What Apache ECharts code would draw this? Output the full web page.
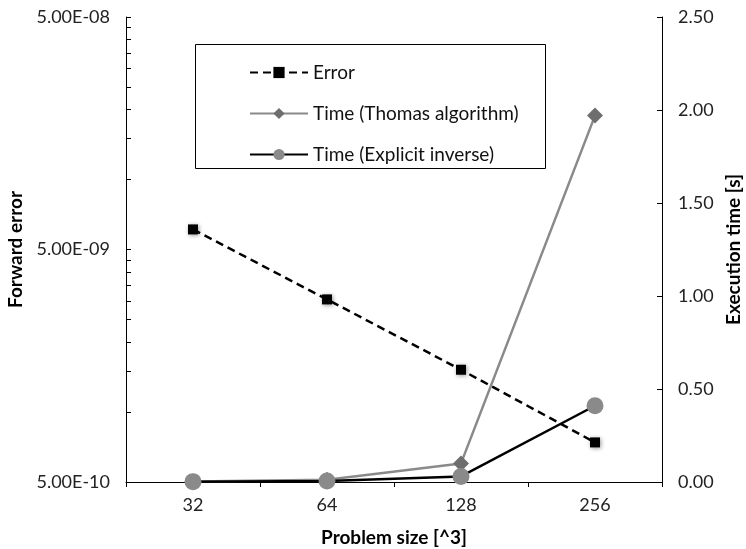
<!DOCTYPE html>
<html><head><meta charset="utf-8">
<script src="https://cdn.jsdelivr.net/npm/echarts@6/dist/echarts.min.js"></script>
<style>html,body{margin:0;padding:0;background:#fff}#c{width:746px;height:549px}</style>
</head><body><div id="c"></div>
<script>
const categories = ['32', '64', '128', '256'];
const errorValues = [6.1e-9, 3.05e-9, 1.52e-9, 7.4e-10];
const thomasTime = [0.003, 0.012, 0.10, 1.97];
const explicitTime = [0.002, 0.005, 0.03, 0.41];
const leftLabels = [5e-10, 5e-9, 5e-8];
const leftMinorTicks = [5e-10, 1e-9, 1.5e-9, 2e-9, 2.5e-9, 3e-9, 3.5e-9, 4e-9, 4.5e-9,
  5e-9, 1e-8, 1.5e-8, 2e-8, 2.5e-8, 3e-8, 3.5e-8, 4e-8, 4.5e-8, 5e-8];

function fmtExp(v) {
  const s = Number(v).toExponential(2).toUpperCase();
  return s.replace(/E([+-])(\d)$/, 'E$10$2');
}

const FONT = 'Lato';
const chart = echarts.init(document.getElementById('c'));
chart.setOption({
  animation: false,
  textStyle: { fontFamily: FONT },
  grid: { left: 126, right: 84, top: 17, bottom: 67, containLabel: false, outerBoundsMode: 'none' },
  legend: {
    orient: 'vertical', left: 244, top: 58,
    itemWidth: 58, itemHeight: 14, itemGap: 22,
    textStyle: { fontFamily: FONT, fontSize: 19, color: '#111' },
    data: ['Error', 'Time (Thomas algorithm)', 'Time (Explicit inverse)']
  },
  graphic: [{ type: 'rect', shape: { x: 195.5, y: 44.5, width: 350, height: 124 },
    style: { fill: 'none', stroke: '#000', lineWidth: 1 }, z: 0 }],
  xAxis: {
    type: 'category', data: categories, boundaryGap: true,
    name: 'Problem size [^3]', nameLocation: 'middle', nameGap: 46,
    nameTextStyle: { fontFamily: FONT, fontWeight: 'bold', fontSize: 19, color: '#000' },
    axisLine: { lineStyle: { color: '#000', width: 1 } },
    axisTick: { show: true, length: 5, lineStyle: { color: '#000' } },
    axisLabel: { fontSize: 18, color: '#222', margin: 14 }
  },
  yAxis: [{
    type: 'log', logBase: 10, min: 5e-10, max: 5e-8,
    name: 'Forward error', nameLocation: 'middle', nameGap: 72, nameRotate: 90,
    nameTextStyle: { fontFamily: FONT, fontWeight: 'bold', fontSize: 19, color: '#000' },
    axisLine: { show: true, lineStyle: { color: '#000' } },
    axisTick: { show: true, inside: true, length: 5, customValues: leftMinorTicks, lineStyle: { color: '#000' } },
    axisLabel: { customValues: leftLabels, fontSize: 18, color: '#222', margin: 16, formatter: fmtExp },
    splitLine: { show: false }, minorTick: { show: false }
  }, {
    type: 'value', min: 0, max: 2.5, interval: 0.5, position: 'right',
    name: 'Execution time [s]', nameLocation: 'middle', nameGap: 62, nameRotate: 90,
    nameTextStyle: { fontFamily: FONT, fontWeight: 'bold', fontSize: 19, color: '#000' },
    axisLine: { show: true, lineStyle: { color: '#000' } },
    axisTick: { show: true, inside: true, length: 5, lineStyle: { color: '#000' } },
    axisLabel: { fontSize: 18, color: '#222', margin: 16, formatter: v => v.toFixed(2) },
    splitLine: { show: false }
  }],
  series: [{
    name: 'Error', type: 'line', yAxisIndex: 0, data: errorValues,
    symbol: 'rect', symbolSize: 10,
    lineStyle: { color: '#000', width: 2.5, type: [8, 5] },
    itemStyle: { color: '#000', shadowColor: 'rgba(0,0,0,0.4)', shadowBlur: 4, shadowOffsetX: 1, shadowOffsetY: 1 },
    z: 3
  }, {
    name: 'Time (Thomas algorithm)', type: 'line', yAxisIndex: 1, data: thomasTime,
    symbol: 'diamond', symbolSize: 16,
    lineStyle: { color: '#8a8a8a', width: 2.5 },
    itemStyle: { color: '#6e6e6e' }, z: 2
  }, {
    name: 'Time (Explicit inverse)', type: 'line', yAxisIndex: 1, data: explicitTime,
    symbol: 'circle', symbolSize: 17,
    lineStyle: { color: '#000', width: 2.5 },
    itemStyle: { color: '#8a8a8a' }, z: 2
  }]
});
</script></body></html>
